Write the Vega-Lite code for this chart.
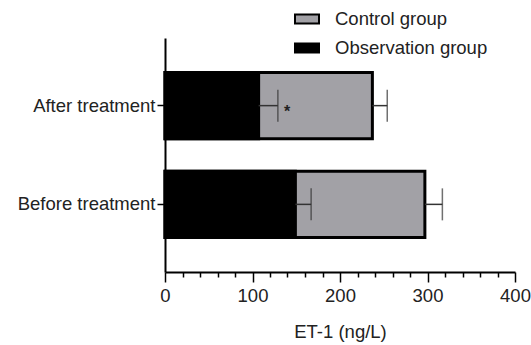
{
  "$schema": "https://vega.github.io/schema/vega-lite/v6.json",
  "width": 350,
  "height": 234,
  "autosize": "none",
  "padding": {"left": 165, "top": 38, "right": 16, "bottom": 73},
  "background": "white",
  "config": {
    "font": "Liberation Sans",
    "view": {"stroke": null},
    "axis": {"labelFont": "Liberation Sans", "titleFont": "Liberation Sans", "labelColor": "#222", "titleColor": "#222", "domainColor": "black", "tickColor": "black", "grid": false}
  },
  "data": {
    "values": [
      {"time": "After treatment", "group": "Control group", "mean": 237, "upper": 254, "sig": ""},
      {"time": "Before treatment", "group": "Control group", "mean": 297, "upper": 317, "sig": ""},
      {"time": "After treatment", "group": "Observation group", "mean": 107, "upper": 129, "sig": "*"},
      {"time": "Before treatment", "group": "Observation group", "mean": 149, "upper": 167, "sig": ""}
    ]
  },
  "encoding": {
    "y": {
      "field": "time", "type": "nominal",
      "sort": ["After treatment", "Before treatment"],
      "scale": {"paddingInner": 0.33, "paddingOuter": 0.35},
      "axis": {"title": null, "labelFontSize": 18.5, "tickSize": 8, "tickWidth": 1.5, "domainWidth": 2, "labelPadding": 2}
    }
  },
  "layer": [
    {
      "mark": {"type": "bar", "stroke": "black", "strokeWidth": 3},
      "encoding": {
        "x": {
          "field": "mean", "type": "quantitative", "stack": null,
          "scale": {"domain": [0, 400], "nice": false},
          "axis": {
            "title": "ET-1 (ng/L)", "titleFontSize": 18.5, "titleFontWeight": "normal", "titlePadding": 18,
            "labelFontSize": 18.5, "labelPadding": 4, "labelOverlap": false, "tickCount": 40,
            "values": [0,20,40,60,80,100,120,140,160,180,200,220,240,260,280,300,320,340,360,380,400],
            "labelExpr": "datum.value % 100 === 0 ? datum.label : ''",
            "tickSize": {"condition": {"test": "datum.value % 100 === 0", "value": 10}, "value": 5},
            "tickWidth": 1.5, "domainWidth": 2, "labelFlush": false
          }
        },
        "color": {
          "field": "group", "type": "nominal",
          "scale": {"domain": ["Control group", "Observation group"], "range": ["#a2a1a6", "#000000"]},
          "legend": {
            "title": null, "orient": "none", "legendX": 129, "legendY": -32,
            "symbolType": "M-1,-0.38L1,-0.38L1,0.38L-1,0.38Z", "symbolSize": 576,
            "symbolStrokeColor": "black", "symbolStrokeWidth": 2, "symbolOpacity": 1,
            "labelFontSize": 18.5, "labelFont": "Liberation Sans", "labelColor": "#222", "labelOffset": 15,
            "rowPadding": 6, "padding": 0
          }
        },
        "order": {"field": "group", "sort": "ascending"}
      }
    },
    {
      "mark": {"type": "rule", "color": "#333", "strokeWidth": 1.5},
      "encoding": {
        "x": {"field": "mean", "type": "quantitative"},
        "x2": {"field": "upper"}
      }
    },
    {
      "mark": {"type": "tick", "color": "#333", "thickness": 1.5, "size": 32, "orient": "vertical"},
      "encoding": {
        "x": {"field": "upper", "type": "quantitative"}
      }
    },
    {
      "mark": {"type": "text", "align": "left", "dx": 6, "dy": 6, "fontSize": 16, "fontWeight": "bold", "color": "#222"},
      "encoding": {
        "x": {"field": "upper", "type": "quantitative"},
        "text": {"field": "sig"}
      }
    }
  ]
}
